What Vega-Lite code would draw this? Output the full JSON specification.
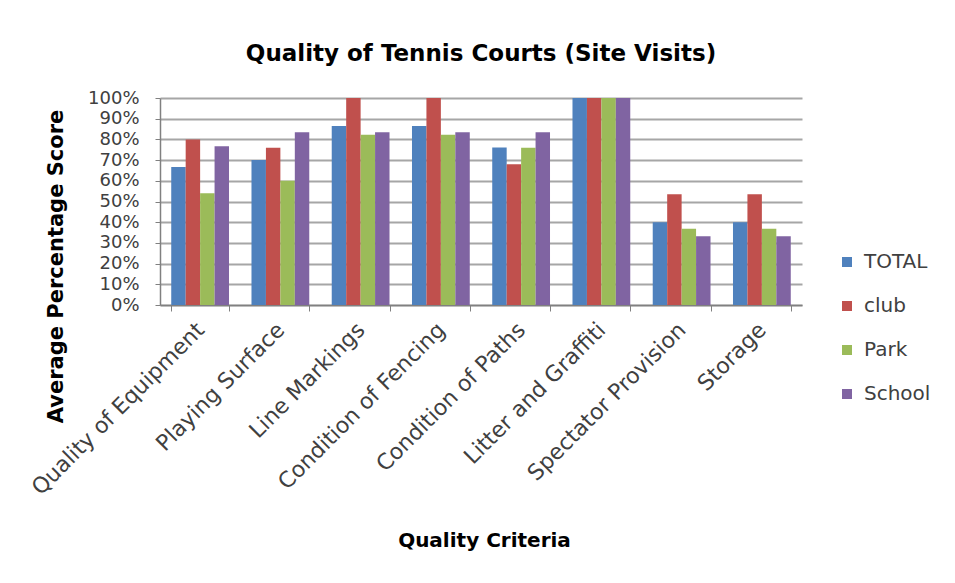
{
  "$schema": "https://vega.github.io/schema/vega-lite/v6.json",
  "width": 642,
  "height": 207,
  "autosize": {"type": "none"},
  "padding": {"left": 160, "top": 98, "right": 153, "bottom": 278},
  "background": "white",
  "title": {
    "text": "Quality of Tennis Courts (Site Visits)",
    "font": "DejaVu Sans",
    "fontSize": 23,
    "fontWeight": "bold",
    "color": "#000000",
    "offset": 23,
    "anchor": "middle"
  },
  "data": {
    "values": [
      {"criteria": "Quality of Equipment", "group": "TOTAL", "score": 0.667},
      {"criteria": "Quality of Equipment", "group": "club", "score": 0.80},
      {"criteria": "Quality of Equipment", "group": "Park", "score": 0.54},
      {"criteria": "Quality of Equipment", "group": "School", "score": 0.767},
      {"criteria": "Playing Surface", "group": "TOTAL", "score": 0.70},
      {"criteria": "Playing Surface", "group": "club", "score": 0.76},
      {"criteria": "Playing Surface", "group": "Park", "score": 0.60},
      {"criteria": "Playing Surface", "group": "School", "score": 0.835},
      {"criteria": "Line Markings", "group": "TOTAL", "score": 0.865},
      {"criteria": "Line Markings", "group": "club", "score": 1.0},
      {"criteria": "Line Markings", "group": "Park", "score": 0.823},
      {"criteria": "Line Markings", "group": "School", "score": 0.835},
      {"criteria": "Condition of Fencing", "group": "TOTAL", "score": 0.865},
      {"criteria": "Condition of Fencing", "group": "club", "score": 1.0},
      {"criteria": "Condition of Fencing", "group": "Park", "score": 0.823},
      {"criteria": "Condition of Fencing", "group": "School", "score": 0.835},
      {"criteria": "Condition of Paths", "group": "TOTAL", "score": 0.761},
      {"criteria": "Condition of Paths", "group": "club", "score": 0.68},
      {"criteria": "Condition of Paths", "group": "Park", "score": 0.76},
      {"criteria": "Condition of Paths", "group": "School", "score": 0.835},
      {"criteria": "Litter and Graffiti", "group": "TOTAL", "score": 1.0},
      {"criteria": "Litter and Graffiti", "group": "club", "score": 1.0},
      {"criteria": "Litter and Graffiti", "group": "Park", "score": 1.0},
      {"criteria": "Litter and Graffiti", "group": "School", "score": 1.0},
      {"criteria": "Spectator Provision", "group": "TOTAL", "score": 0.40},
      {"criteria": "Spectator Provision", "group": "club", "score": 0.535},
      {"criteria": "Spectator Provision", "group": "Park", "score": 0.368},
      {"criteria": "Spectator Provision", "group": "School", "score": 0.332},
      {"criteria": "Storage", "group": "TOTAL", "score": 0.40},
      {"criteria": "Storage", "group": "club", "score": 0.535},
      {"criteria": "Storage", "group": "Park", "score": 0.368},
      {"criteria": "Storage", "group": "School", "score": 0.332}
    ]
  },
  "mark": {"type": "bar"},
  "encoding": {
    "x": {
      "field": "criteria",
      "type": "nominal",
      "sort": null,
      "scale": {"paddingInner": 0.28, "paddingOuter": 0.14},
      "axis": {
        "title": "Quality Criteria",
        "titleFont": "DejaVu Sans",
        "titleFontSize": 20,
        "titleFontWeight": "bold",
        "titleColor": "#000000",
        "titleX": 324,
        "titleY": 235,
        "titleAlign": "center",
        "titleBaseline": "middle",
        "labelAngle": -45,
        "labelAlign": "right",
        "labelBaseline": "middle",
        "labelFont": "DejaVu Sans",
        "labelFontSize": 22,
        "labelColor": "#404040",
        "labelPadding": 15,
        "labelLimit": 400,
        "tickBand": "extent",
        "tickColor": "#808080",
        "tickSize": 6,
        "domainColor": "#808080",
        "domainWidth": 1.5,
        "grid": false
      }
    },
    "xOffset": {"field": "group", "type": "nominal", "sort": ["TOTAL", "club", "Park", "School"]},
    "y": {
      "field": "score",
      "type": "quantitative",
      "scale": {"domain": [0, 1], "nice": false},
      "axis": {
        "title": "Average Percentage Score",
        "titleFont": "DejaVu Sans",
        "titleFontSize": 21,
        "titleFontWeight": "bold",
        "titleColor": "#000000",
        "titleAngle": -90,
        "titleX": -104,
        "titleY": 168,
        "titleAlign": "center",
        "titleBaseline": "middle",
        "format": ".0%",
        "values": [0, 0.1, 0.2, 0.3, 0.4, 0.5, 0.6, 0.7, 0.8, 0.9, 1.0],
        "labelFont": "DejaVu Sans",
        "labelFontSize": 18,
        "labelColor": "#404040",
        "labelPadding": 16,
        "labelOverlap": false,
        "tickColor": "#808080",
        "tickSize": 5,
        "domainColor": "#808080",
        "domainWidth": 1.5,
        "grid": true,
        "gridColor": "#a6a6a6",
        "gridWidth": 2
      }
    },
    "color": {
      "field": "group",
      "type": "nominal",
      "sort": ["TOTAL", "club", "Park", "School"],
      "scale": {
        "domain": ["TOTAL", "club", "Park", "School"],
        "range": ["#4F81BD", "#C0504D", "#9BBB59", "#8064A2"]
      },
      "legend": {
        "title": null,
        "orient": "none",
        "legendX": 677,
        "legendY": 154,
        "symbolType": "square",
        "symbolSize": 100,
        "symbolStrokeWidth": 0,
        "labelFont": "DejaVu Sans",
        "labelFontSize": 20,
        "labelColor": "#404040",
        "labelOffset": 7,
        "rowPadding": 24
      }
    }
  },
  "config": {
    "view": {"stroke": null}
  }
}
